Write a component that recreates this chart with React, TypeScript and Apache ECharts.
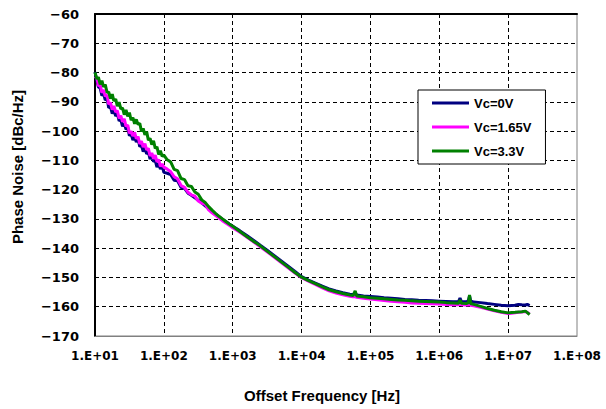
import React, { useEffect, useRef } from "react";
import * as echarts from "echarts";

const freqs: number[] = [
  10, 10.6, 11.2, 11.9, 12.6, 13.3, 14.1, 15.0, 15.8, 16.8, 17.8, 18.8, 20.0, 21.1, 22.4, 23.7, 25.1, 26.6, 28.2, 29.9,
  31.6, 33.5, 35.5, 37.6, 39.8, 42.2, 44.7, 47.3, 50.1, 53.1, 56.2, 59.6, 63.1, 66.8, 70.8, 75.0, 79.4, 84.1, 89.1, 94.4, 100,
  112, 126, 141, 158, 178, 200, 224, 251, 282, 316, 355, 398, 447, 501, 562, 631, 708, 794, 891, 1000,
  1260, 1580, 2000, 2510, 3160, 3980, 5010, 6310, 7940, 10000,
  12600, 15800, 20000, 25100, 31600, 39800, 50100, 56000, 60000, 63100, 79400, 100000,
  126000, 158000, 200000, 251000, 316000, 398000, 501000, 631000, 794000, 1000000,
  1260000, 1580000, 1900000, 2000000, 2100000, 2510000, 2650000, 2750000, 2850000, 3160000, 3980000, 5010000,
  6310000, 7940000, 10000000, 11200000, 12600000, 14100000, 15800000, 17800000, 19000000, 20500000,
];

const vc0: number[] = [
  -79.8, -82.6, -84.9, -85.3, -87.9, -87.2, -89.4, -88.9, -92.0, -91.7, -94.0, -92.8, -94.9, -94.0, -96.5, -96.1, -98.4, -97.3, -99.4, -98.8,
  -101.6, -101.0, -103.1, -101.9, -103.7, -102.7, -105.3, -104.9, -107.0, -105.6, -107.8, -107.2, -109.6, -108.2, -110.4, -110.1, -112.3, -111.0, -113.0, -111.8, -114.1,
  -114.4, -114.9, -116.8, -117.0, -119.3, -119.6, -121.2, -121.9, -122.8, -123.6, -124.5, -125.5, -126.5, -127.4, -128.3, -129.2, -130.1, -130.9, -131.7, -132.5,
  -134.0, -135.6, -137.3, -139.0, -140.7, -142.5, -144.3, -146.1, -147.9, -149.7,
  -150.9, -151.9, -153.0, -153.9, -154.6, -155.2, -155.7, -155.9, -155.1, -156.0, -156.3, -156.5,
  -156.7, -156.9, -157.1, -157.3, -157.5, -157.6, -157.8, -157.9, -158.0, -158.1,
  -158.2, -158.3, -158.3, -157.0, -158.3, -158.3, -157.8, -156.3, -158.0, -158.4, -158.6, -158.9,
  -159.2, -159.5, -159.7, -159.6, -159.5, -159.2, -159.3, -159.4, -159.2, -159.6,
];

const vc165: number[] = [
  -82.1, -81.6, -84.6, -84.2, -86.9, -85.9, -88.1, -87.7, -90.8, -90.3, -92.7, -91.4, -93.5, -93.0, -95.7, -94.7, -96.8, -95.8, -98.4, -97.9,
  -100.7, -100.1, -101.7, -100.4, -102.6, -101.9, -104.4, -103.4, -105.5, -104.3, -106.4, -105.9, -108.5, -107.5, -109.5, -108.2, -110.5, -109.7, -112.1, -111.2, -112.3,
  -113.0, -113.9, -115.6, -116.3, -118.6, -119.2, -120.9, -121.8, -122.2, -123.9, -124.6, -125.0, -126.9, -127.9, -128.8, -129.7, -130.6, -131.4, -132.2, -133.0,
  -134.5, -136.1, -137.8, -139.5, -141.2, -143.0, -144.8, -146.6, -148.4, -150.1,
  -151.3, -152.4, -153.6, -154.6, -155.3, -155.9, -156.4, -156.6, -156.5, -156.8, -157.1, -157.4,
  -157.6, -157.9, -158.1, -158.3, -158.5, -158.7, -158.8, -158.9, -159.0, -159.1,
  -159.2, -159.3, -159.3, -159.2, -159.3, -159.4, -159.4, -159.2, -159.5, -159.7, -160.2, -160.8,
  -161.4, -161.9, -162.3, -162.2, -162.1, -161.9, -161.8, -161.6, -162.0, -162.5,
];

const vc33: number[] = [
  -79.9, -82.2, -81.6, -84.0, -82.8, -84.9, -84.1, -86.9, -86.6, -88.9, -87.4, -89.7, -89.1, -91.5, -90.1, -92.4, -92.1, -94.4, -92.8, -95.0,
  -93.7, -96.3, -95.4, -97.5, -96.0, -97.8, -97.3, -100.1, -99.1, -101.3, -100.2, -103.1, -102.5, -104.6, -103.3, -105.9, -105.4, -108.0, -106.7, -108.6, -108.2,
  -109.8, -110.6, -113.1, -113.5, -116.2, -116.6, -118.7, -118.9, -120.8, -121.6, -123.5, -124.4, -125.8, -127.0, -128.1, -129.1, -130.0, -130.9, -131.7, -132.5,
  -134.2, -135.9, -137.6, -139.2, -141.0, -142.8, -144.6, -146.4, -148.2, -149.9,
  -151.1, -152.1, -153.2, -154.2, -154.9, -155.5, -156.0, -156.2, -154.6, -156.3, -156.6, -156.9,
  -157.1, -157.3, -157.5, -157.7, -157.8, -158.0, -158.1, -158.2, -158.3, -158.4,
  -158.6, -158.7, -158.8, -157.8, -158.8, -158.9, -158.6, -156.0, -158.9, -159.2, -159.9, -160.6,
  -161.2, -161.7, -162.1, -162.0, -161.9, -161.8, -161.7, -161.5, -162.0, -162.7,
];

const seriesNames: string[] = ["Vc=0V", "Vc=1.65V", "Vc=3.3V"];
const seriesColors: string[] = ["#000080", "#FF00FF", "#008000"];
const seriesValues: number[][] = [vc0, vc165, vc33];

const yMin = -170;
const yMax = -60;
const yStep = 10;
const xMin = 10;
const xMax = 1e8;

const FONT = "'Liberation Sans', Arial, sans-serif";
const TICK_FONT = "'DejaVu Sans', sans-serif";

export default function App() {
  const ref = useRef<HTMLDivElement>(null);
  useEffect(() => {
    if (!ref.current) return;
    const chart = echarts.init(ref.current, undefined, { renderer: "svg" });
    const option: any = {
      animation: false,
      backgroundColor: "#ffffff",
      grid: {
        left: 95,
        right: 29,
        top: 14,
        bottom: 73,
        containLabel: false,
        show: true,
        borderColor: "#808080",
        borderWidth: 1,
        backgroundColor: "transparent",
      },
      legend: {
        data: seriesNames,
        orient: "vertical",
        left: 418,
        top: 90,
        icon: "rect",
        itemWidth: 37,
        itemHeight: 3,
        itemGap: 10,
        backgroundColor: "#ffffff",
        borderColor: "#000000",
        borderWidth: 1,
        padding: [6, 14, 6, 14],
        textStyle: {
          fontFamily: FONT,
          fontWeight: "bold",
          fontSize: 13,
          color: "#000",
          lineHeight: 14,
        },
      },
      xAxis: [
        {
          type: "log",
          logBase: 10,
          min: xMin,
          max: xMax,
          position: "bottom",
          axisLine: { show: true, lineStyle: { color: "#808080", width: 1 } },
          axisTick: { show: false },
          axisLabel: {
            margin: 14,
            fontFamily: TICK_FONT,
            fontWeight: "bold",
            fontSize: 12,
            color: "#000",
            formatter: (v: number) => {
              const e = Math.round(Math.log10(v));
              return "1.E+" + (e < 10 ? "0" + e : String(e));
            },
          },
          splitLine: {
            show: true,
            showMinLine: false,
            showMaxLine: false,
            lineStyle: { color: "#000", width: 1, type: [4, 3] },
          },
        },
        {
          type: "log",
          logBase: 10,
          min: xMin,
          max: xMax,
          position: "top",
          axisLine: { show: true, lineStyle: { color: "#000", width: 2 } },
          axisTick: { show: false },
          axisLabel: { show: false },
          splitLine: { show: false },
        },
      ],
      yAxis: {
        type: "value",
        min: yMin,
        max: yMax,
        interval: yStep,
        axisLine: { show: true, lineStyle: { color: "#000", width: 2 } },
        axisTick: { show: false },
        axisLabel: {
          margin: 16,
          fontFamily: TICK_FONT,
          fontWeight: "bold",
          fontSize: 13,
          color: "#000",
          formatter: (v: number) => (v < 0 ? "\u2212" + Math.abs(v) : String(v)),
        },
        splitLine: {
          show: true,
          showMinLine: false,
          showMaxLine: false,
          lineStyle: { color: "#000", width: 1, type: [4, 3] },
        },
      },
      graphic: [
        {
          type: "text",
          x: 322,
          y: 395,
          style: {
            text: "Offset Frequency [Hz]",
            font: "bold 15px " + FONT,
            fill: "#000",
            align: "center",
            verticalAlign: "middle",
          },
        },
        {
          type: "text",
          x: 17,
          y: 167,
          rotation: Math.PI / 2,
          style: {
            text: "Phase Noise [dBc/Hz]",
            font: "bold 15px " + FONT,
            fill: "#000",
            align: "center",
            verticalAlign: "middle",
          },
        },
      ],
      series: seriesNames.map((name, i) => ({
        name,
        type: "line",
        xAxisIndex: 0,
        showSymbol: false,
        symbol: "none",
        color: seriesColors[i],
        lineStyle: { color: seriesColors[i], width: 3 },
        data: freqs.map((f, j) => [f, seriesValues[i][j]]),
        z: 2 + i,
      })),
    };
    chart.setOption(option);
    return () => chart.dispose();
  }, []);
  return (
    <div
      ref={ref}
      style={{ position: "fixed", left: 0, top: 0, width: 606, height: 409 }}
    />
  );
}
